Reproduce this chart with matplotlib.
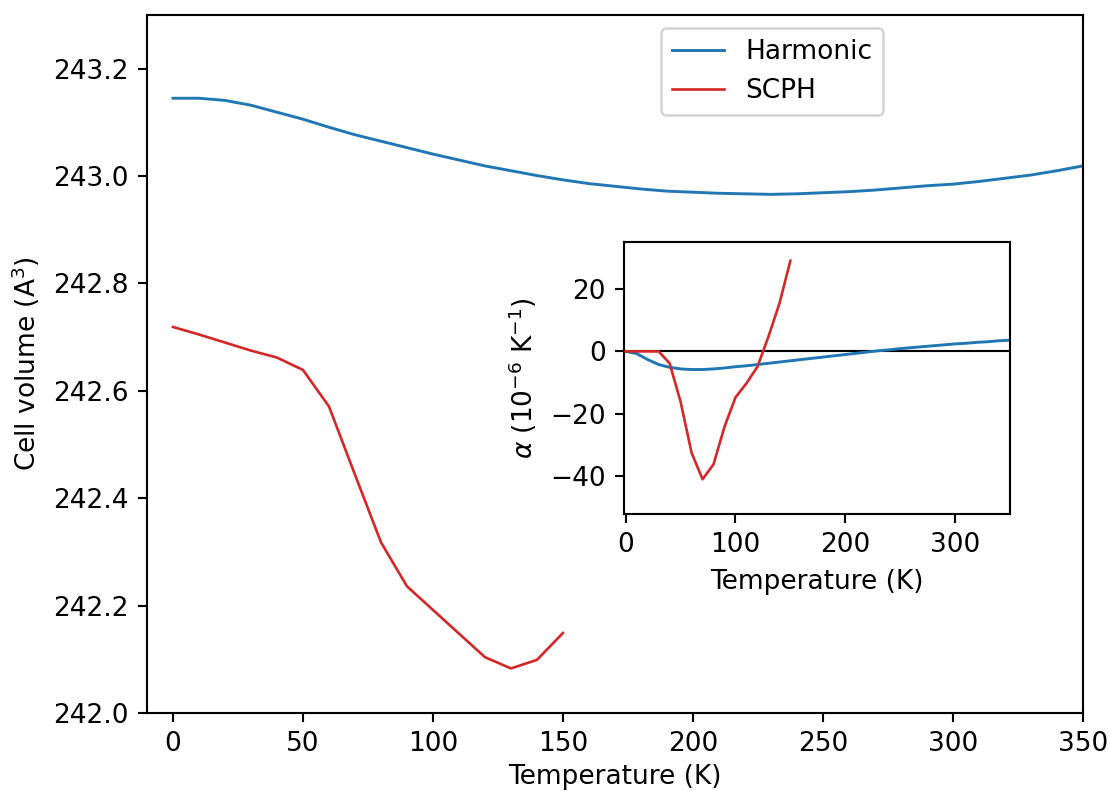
import matplotlib
matplotlib.use("Agg")
import matplotlib.pyplot as plt

# Harmonic cell volume vs temperature (10 K steps)
T_harm = [0, 10, 20, 30, 40, 50, 60, 70, 80, 90, 100, 110, 120, 130, 140, 150,
          160, 170, 180, 190, 200, 210, 220, 230, 240, 250, 260, 270, 280, 290,
          300, 310, 320, 330, 340, 350]
V_harm = [243.145, 243.145, 243.141, 243.132, 243.119, 243.106, 243.091, 243.077,
          243.065, 243.053, 243.041, 243.030, 243.019, 243.010, 243.001, 242.993,
          242.986, 242.981, 242.976, 242.972, 242.970, 242.968, 242.967, 242.966,
          242.967, 242.969, 242.971, 242.974, 242.978, 242.982, 242.985, 242.990,
          242.996, 243.002, 243.010, 243.019]

# SCPH cell volume
T_scph = [0, 10, 20, 30, 40, 50, 60, 70, 80, 90, 100, 110, 120, 130, 140, 150]
V_scph = [242.719, 242.705, 242.690, 242.675, 242.662, 242.639, 242.571, 242.444,
          242.318, 242.236, 242.192, 242.148, 242.104, 242.083, 242.099, 242.149]

# Thermal expansion coefficient (1e-6 / K)
alpha_harm = [0.0, -0.7, -2.6, -4.2, -5.1, -5.6, -5.8, -5.8, -5.6, -5.3, -4.9,
              -4.6, -4.2, -3.8, -3.4, -3.0, -2.6, -2.2, -1.8, -1.4, -1.0, -0.6,
              -0.2, 0.2, 0.5, 0.9, 1.2, 1.5, 1.8, 2.1, 2.4, 2.6, 2.9, 3.1, 3.4, 3.6]
alpha_scph = [0.0, 0.0, 0.0, 0.0, -3.8, -16.1, -32.4, -40.9, -36.1, -24.1, -14.7,
              -10.2, -4.9, 4.7, 15.3, 29.0]

BLUE = "#1f77b4"
RED = "#d62728"

plt.rcParams["font.size"] = 10
fig = plt.figure(figsize=(1110 / 190, 791 / 190), dpi=190)

ax = fig.add_axes([0.1324, 0.0986, 0.8432, 0.8824])
ax.plot(T_harm, V_harm, color=BLUE, lw=1.1, label="Harmonic")
ax.plot(T_scph, V_scph, color=RED, lw=1.0, label="SCPH")
ax.set_xlim(-10, 350)
ax.set_ylim(242.0, 243.3)
ax.set_xticks([0, 50, 100, 150, 200, 250, 300, 350])
ax.set_yticks([242.0, 242.2, 242.4, 242.6, 242.8, 243.0, 243.2])
ax.set_xlabel("Temperature (K)", labelpad=2.5)
ax.set_ylabel("Cell volume (A$^3$)")
ax.legend(loc="upper center", bbox_to_anchor=(0.668, 1.0))

ins = fig.add_axes([0.5622, 0.3502, 0.3477, 0.3439])
ins.axhline(0, color="k", lw=0.8, zorder=1)
ins.plot(T_harm, alpha_harm, color=BLUE, lw=1.1, zorder=2)
ins.plot(T_scph, alpha_scph, color=RED, lw=1.0, zorder=3)
ins.set_xlim(-1.5, 350)
ins.set_ylim(-52, 35)
ins.set_xticks([0, 100, 200, 300])
ins.set_yticks([-40, -20, 0, 20])
ins.set_xlabel("Temperature (K)")
ins.set_ylabel(r"$\alpha$ ($10^{-6}$ K$^{-1}$)")

fig.savefig("out.png", dpi=190)
